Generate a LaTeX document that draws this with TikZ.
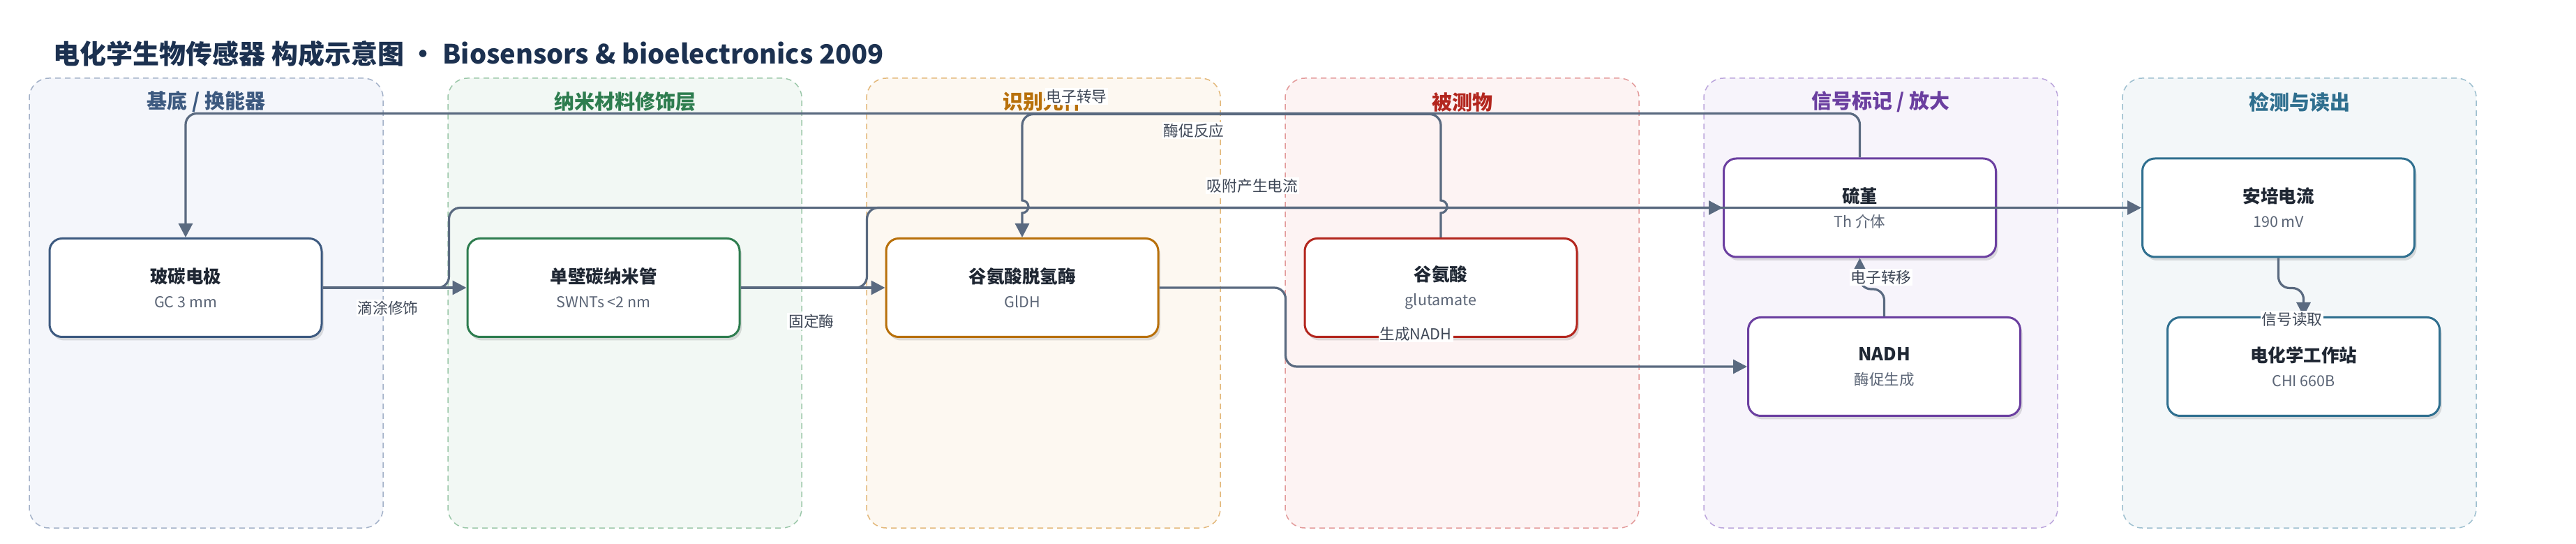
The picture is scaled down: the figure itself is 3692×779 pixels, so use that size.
\documentclass[tikz,border=0pt]{standalone}
\usepackage{fontspec}
\setmainfont{Noto Sans CJK SC}
\usetikzlibrary{arrows.meta,shadows,calc}

\definecolor{edgegray}{HTML}{5A6A80}
\definecolor{lblgray}{HTML}{3E4756}
\definecolor{subgray}{HTML}{5B6576}
\definecolor{ttlnavy}{HTML}{1C3150}
\definecolor{boxtxt}{HTML}{1F2733}

\definecolor{basehead}{HTML}{3D5A80}
\definecolor{baseline}{HTML}{A3B1C8}
\definecolor{basefill}{HTML}{F4F6FB}
\definecolor{nanohead}{HTML}{2E7D4F}
\definecolor{nanoline}{HTML}{9CC8AA}
\definecolor{nanofill}{HTML}{F2F8F4}
\definecolor{recoghead}{HTML}{B8700A}
\definecolor{recogline}{HTML}{E3B87A}
\definecolor{recogfill}{HTML}{FDF8F1}
\definecolor{anahead}{HTML}{B3261E}
\definecolor{analine}{HTML}{E39A9A}
\definecolor{anafill}{HTML}{FDF3F3}
\definecolor{sighead}{HTML}{6B3FA0}
\definecolor{sigline}{HTML}{BCA6DC}
\definecolor{sigfill}{HTML}{F7F4FB}
\definecolor{readhead}{HTML}{2F6F8F}
\definecolor{readline}{HTML}{9DBFCF}
\definecolor{readfill}{HTML}{F3F7F9}

\newcommand{\bxtext}[2]{{\bfseries #1}\\{\fontsize{10.75}{17.5}\selectfont\color{subgray}#2}}

\begin{document}
\begin{tikzpicture}[x=0.5pt,y=-0.5pt]
	\tikzset{lane/.style={rounded corners=14pt, dash pattern=on 4pt off 3pt, line width=0.75pt,
			draw=#1line, fill=#1fill, minimum width=253.5pt, minimum height=322pt},
		hdr/.style={font=\fontsize{14.5}{17}\selectfont\bfseries, text=#1head, inner sep=0pt},
		bx/.style={rounded corners=9pt, draw=#1, line width=1.5pt, fill=white, text=boxtxt,
			minimum width=195pt, minimum height=70.5pt, align=center,
			font=\fontsize{12.75}{17.5}\selectfont,
			drop shadow={shadow xshift=1.5pt, shadow yshift=-2.5pt, opacity=0.12, fill=black}},
		edge/.style={draw=edgegray, line width=1.6pt, rounded corners=8pt,
			-{Triangle[length=10pt,width=10pt]}},
		lbl/.style={fill=white, inner sep=1pt, text=lblgray, font=\fontsize{10.85}{13}\selectfont}};

	\fill[white] (0,0) rectangle (3692,779);
	\useasboundingbox (0,0) rectangle (3692,779);

	\node[anchor=west, inner sep=0pt, text=ttlnavy, font=\fontsize{19}{22}\selectfont\bfseries] (title) at (76, 77)
		{电化学生物传感器 构成示意图 · Biosensors \& bioelectronics 2009};

	% lanes
	\node[lane=base] (lane1) at (295.5, 434) {};
	\node[lane=nano] (lane2) at (895.5, 434) {};
	\node[lane=recog] (lane3) at (1495.5, 434) {};
	\node[lane=ana] (lane4) at (2095.5, 434) {};
	\node[lane=sig] (lane5) at (2695.5, 434) {};
	\node[lane=read] (lane6) at (3295.5, 434) {};

	\node[hdr=base] (h1) at (295.5, 146) {基底 / 换能器};
	\node[hdr=nano] (h2) at (895.5, 146) {纳米材料修饰层};
	\node[hdr=recog] (h3) at (1495.5, 146) {识别元件};
	\node[hdr=ana] (h4) at (2095.5, 146) {被测物};
	\node[hdr=sig] (h5) at (2695.5, 146) {信号标记 / 放大};
	\node[hdr=read] (h6) at (3295.5, 146) {检测与读出};

	% boxes
	\node[bx=basehead] (gc) at (266, 412) {\bxtext{玻碳电极}{GC 3 mm}};
	\node[bx=nanohead] (swnt) at (865, 412) {\bxtext{单壁碳纳米管}{SWNTs <2 nm}};
	\node[bx=recoghead] (gldh) at (1465, 412) {\bxtext{谷氨酸脱氢酶}{GlDH}};
	\node[bx=anahead] (glu) at (2065, 412) {\bxtext{谷氨酸}{glutamate}};
	\node[bx=sighead] (thi) at (2665.5, 297.5) {\bxtext{硫堇}{Th 介体}};
	\node[bx=sighead] (nadh) at (2700.5, 525) {\bxtext{NADH}{酶促生成}};
	\node[bx=readhead] (amp) at (3265.5, 297.5) {\bxtext{安培电流}{190 mV}};
	\node[bx=readhead] (chi) at (3301.5, 525) {\bxtext{电化学工作站}{CHI 660B}};

	% connectors
	\draw[edge] (gc.east) -- (swnt.west);
	\draw[edge] (swnt.east) -- (gldh.west);
	\draw[edge] (gc.east) -- ++(181,0) |- (thi.west);
	\draw[edge] (swnt.east) -- ++(181,0) |- (amp.west);
	\draw[edge] (thi.north) -- ++(0,-63) -| (gc.north);
	% hops where it crosses the y=297.5 line
	\draw[edge, sharp corners] (glu.north) -- ++(0,-35) arc[start angle=-90, end angle=90, radius=4.5pt]
		-- ++(0,-107.5) arc[start angle=0, end angle=90, radius=8pt]
		-- ++(-568,0) arc[start angle=90, end angle=180, radius=8pt]
		-- ++(0,107.5) arc[start angle=90, end angle=-90, radius=4.5pt]
		-- (gldh.north);
	\draw[edge] (gldh.east) -- ++(181,0) |- (nadh.west);
	\draw[edge] (nadh.north) -- ++(0,-39) -| (thi.south);
	\draw[edge] (amp.south) -- ++(0,43) -| (chi.north);

	% labels
	\node[lbl] (ldrip) at (556, 441) {滴涂修饰};
	\node[lbl] (lfix) at (1163, 460) {固定酶};
	\node[lbl] (lads) at (1795, 266) {吸附产生电流};
	\node[lbl] (lcond) at (1543, 138) {电子转导};
	\node[lbl] (lenz) at (1711, 187) {酶促反应};
	\node[lbl] (lnadh) at (2029, 478) {生成NADH};
	\node[lbl] (ltrans) at (2696, 397) {电子转移};
	\node[lbl] (lread) at (3285, 457) {信号读取};
\end{tikzpicture}
\end{document}
